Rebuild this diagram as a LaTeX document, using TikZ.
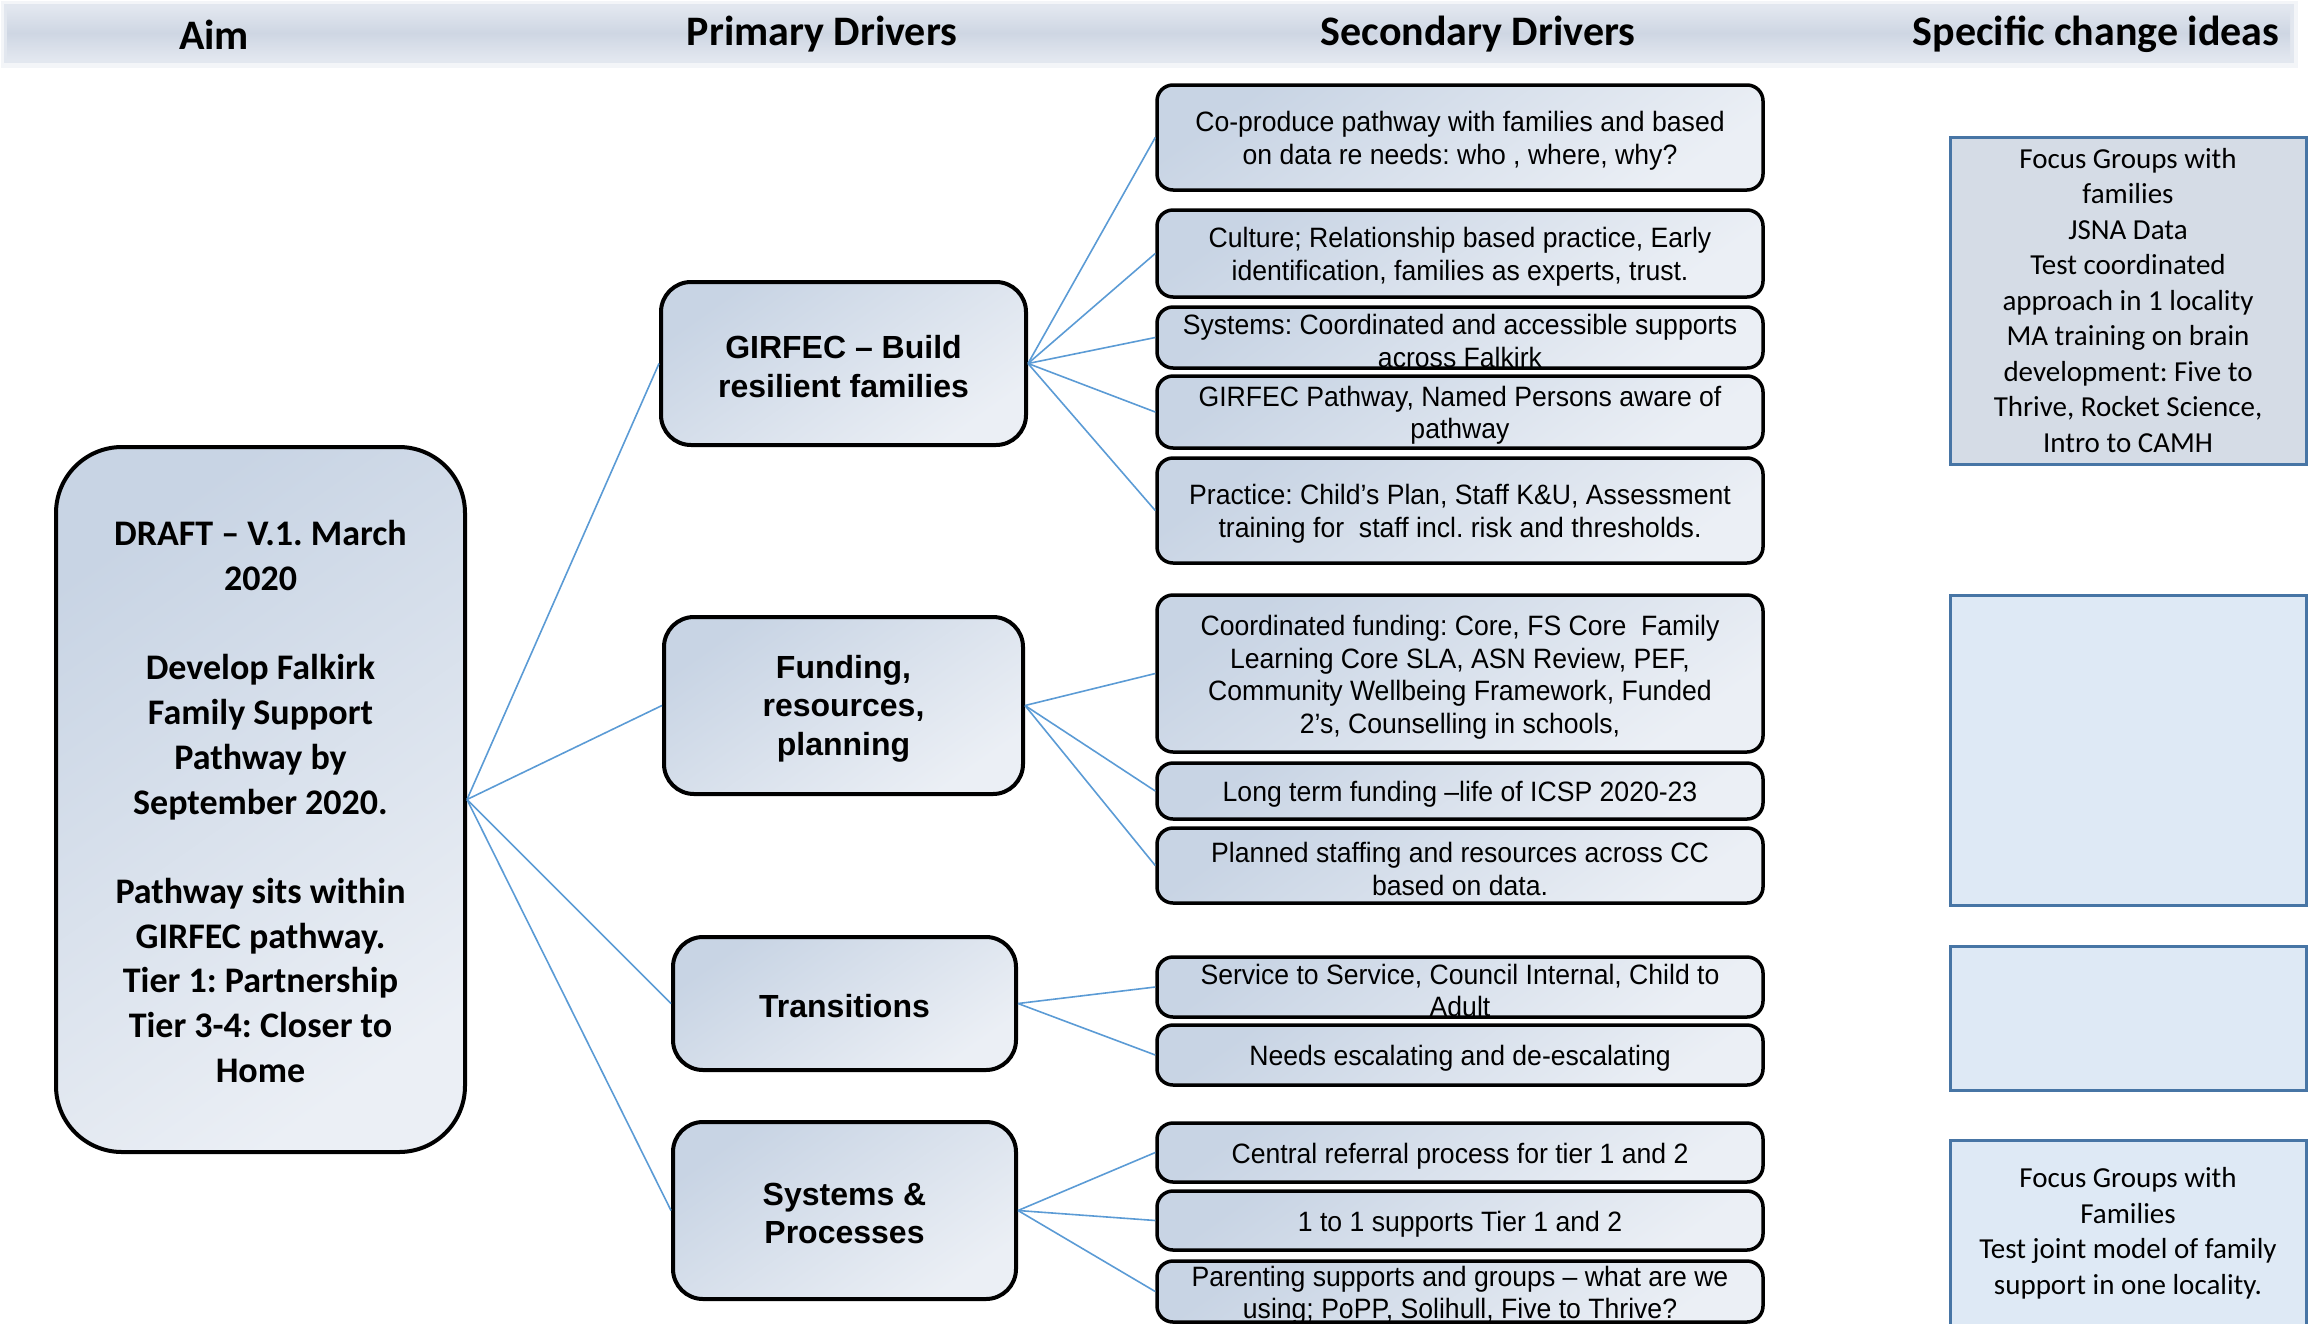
\documentclass[tikz,border=0pt]{standalone}
\usepackage{fontspec}
\setmainfont{Liberation Sans}
\newfontfamily\calibri{Carlito}
\newfontfamily\arialn[FakeStretch=0.95]{Liberation Sans}
\frenchspacing
\definecolor{connc}{RGB}{91,155,213}
\definecolor{gradA}{RGB}{200,212,228}
\definecolor{gradB}{RGB}{235,239,245}
\definecolor{ideaA}{RGB}{213,220,230}
\definecolor{ideaB}{RGB}{222,233,245}
\definecolor{ideaD}{RGB}{71,117,165}
\definecolor{bandc}{RGB}{206,214,227}
\definecolor{bandl}{RGB}{226,231,239}
\tikzset{
  conn/.style={draw=connc, line width=1.6pt},
  gbox/.style={draw=black, line width=4pt, top color=gradA, bottom color=gradB, shading angle=35, inner sep=0pt},
  aimbox/.style={gbox, rounded corners=66pt, minimum width=409pt, minimum height=705pt},
  aimtext/.style={inner sep=0pt, align=center, font=\calibri\bfseries\fontsize{36}{44.7}\selectfont},
  primbox/.style={gbox, rounded corners=30pt},
  primtext/.style={inner sep=0pt, align=center, font=\bfseries\fontsize{32}{38.5}\selectfont},
  secbox/.style={gbox, line width=3.5pt, rounded corners=16pt, minimum width=606pt},
  sectext/.style={inner sep=0pt, align=center, font=\arialn\fontsize{28}{32.5}\selectfont},
  ideabox/.style={draw=ideaD, line width=3pt, minimum width=356pt, inner sep=0pt, align=center, font=\calibri\fontsize{29}{35.5}\selectfont},
  hdr/.style={font=\calibri\bfseries\fontsize{42}{50}\selectfont, inner sep=0pt}
}
\begin{document}
\begin{tikzpicture}[x=1pt,y=-1pt]
\useasboundingbox (0,0) rectangle (2315,1323);
% header band
\fill[bandc, opacity=0.25] (1,1) rectangle (2298,68);
\fill[bandc, opacity=0.45] (4,4) rectangle (2294,63);
\shade[top color=bandl, bottom color=bandl, middle color=bandc] (7,7) rectangle (2290,59);
\node[hdr] (h1) at (214,34.5) {Aim};
\node[hdr] (h2) at (822,34.5) {Primary Drivers};
\node[hdr] (h3) at (1478,34.5) {Secondary Drivers};
\node[hdr] (h4) at (2096,34.5) {Specific change ideas};

% aim
\node[aimbox] (aim) at (260.5,799.5) {};
\node[aimtext] (aimt) at ([yshift=-2pt]aim.center) {DRAFT – V.1. March\\2020\\[44.7pt]Develop Falkirk\\Family Support\\Pathway by\\September 2020.\\[44.7pt]Pathway sits within\\GIRFEC pathway.\\Tier 1: Partnership\\Tier 3-4: Closer to\\Home};

% primary drivers
\node[primbox, minimum width=365pt, minimum height=163pt] (p1) at (843.5,363.5) {};
\node[primbox, minimum width=359pt, minimum height=177pt] (p2) at (843.5,705.5) {};
\node[primbox, minimum width=343pt, minimum height=133pt] (p3) at (844.5,1003.5) {};
\node[primbox, minimum width=343pt, minimum height=177pt] (p4) at (844.5,1210.5) {};
\node[primtext] (p1t) at ([yshift=-3pt]p1.center) {GIRFEC – Build\\resilient families};
\node[primtext] (p2t) at ([yshift=-3pt]p2.center) {Funding,\\resources,\\planning};
\node[primtext] (p3t) at ([yshift=-3pt]p3.center) {Transitions};
\node[primtext] (p4t) at ([yshift=-3pt]p4.center) {Systems \&\\Processes};

% secondary drivers
\node[secbox, minimum height=105pt] (s1) at (1460,137.5) {};
\node[secbox, minimum height=87pt] (s2) at (1460,253.5) {};
\node[secbox, minimum height=61pt] (s3) at (1460,337.5) {};
\node[secbox, minimum height=72pt] (s4) at (1460,412) {};
\node[secbox, minimum height=105pt] (s5) at (1460,510.5) {};
\node[secbox, minimum height=157pt] (s6) at (1460,673.5) {};
\node[secbox, minimum height=56pt] (s7) at (1460,791) {};
\node[secbox, minimum height=75pt] (s8) at (1460,865.5) {};
\node[secbox, minimum height=60pt] (s9) at (1460,987) {};
\node[secbox, minimum height=60pt] (s10) at (1460,1055) {};
\node[secbox, minimum height=59pt] (s11) at (1460,1152.5) {};
\node[secbox, minimum height=59pt] (s12) at (1460,1220.5) {};
\node[secbox, minimum height=61pt] (s13) at (1460,1291.5) {};
\node[sectext] (s1t) at ([yshift=-3.5pt]s1.center) {Co-produce pathway with families and based\\on data re needs: who , where, why?};
\node[sectext] (s2t) at ([yshift=-3.5pt]s2.center) {Culture; Relationship based practice, Early\\identification, families as experts, trust.};
\node[sectext] (s3t) at ([yshift=-3.5pt]s3.center) {Systems: Coordinated and accessible supports\\across Falkirk};
\node[sectext] (s4t) at ([yshift=-3.5pt]s4.center) {GIRFEC Pathway, Named Persons aware of\\pathway};
\node[sectext] (s5t) at ([yshift=-3.5pt]s5.center) {Practice: Child’s Plan, Staff K\&U, Assessment\\training for\ \ staff incl. risk and thresholds.};
\node[sectext] (s6t) at ([yshift=-3.5pt]s6.center) {Coordinated funding: Core, FS Core\ \ Family\\Learning Core SLA, ASN Review, PEF,\\Community Wellbeing Framework, Funded\\2’s, Counselling in schools,};
\node[sectext] (s7t) at ([yshift=-3.5pt]s7.center) {Long term funding –life of ICSP 2020-23};
\node[sectext] (s8t) at ([yshift=-3.5pt]s8.center) {Planned staffing and resources across CC\\based on data.};
\node[sectext] (s9t) at ([yshift=-3.5pt]s9.center) {Service to Service, Council Internal, Child to\\Adult};
\node[sectext] (s10t) at ([yshift=-3.5pt]s10.center) {Needs escalating and de-escalating};
\node[sectext] (s11t) at ([yshift=-3.5pt]s11.center) {Central referral process for tier 1 and 2};
\node[sectext] (s12t) at ([yshift=-3.5pt]s12.center) {1 to 1 supports Tier 1 and 2};
\node[sectext] (s13t) at ([yshift=-3.5pt]s13.center) {Parenting supports and groups – what are we\\using; PoPP, Solihull, Five to Thrive?};

% change ideas
\node[ideabox, fill=ideaA, minimum height=327pt] (c1) at (2128,300.5) {Focus Groups with\\families\\JSNA Data\\Test coordinated\\approach in 1 locality\\MA training on brain\\development: Five to\\Thrive, Rocket Science,\\Intro to CAMH};
\node[ideabox, fill=ideaB, minimum height=310pt] (c2) at (2128,750) {};
\node[ideabox, fill=ideaB, minimum height=144pt] (c3) at (2128,1018) {};
\node[ideabox, fill=ideaB, minimum height=186pt] (c4) at (2128,1233) {Focus Groups with\\Families\\Test joint model of family\\support in one locality.};

% connectors
\foreach \p in {p1,p2,p3,p4} \draw[conn] (aim.east) -- (\p.west);
\foreach \s in {s1,s2,s3,s4,s5} \draw[conn] (p1.east) -- (\s.west);
\foreach \s in {s6,s7,s8} \draw[conn] (p2.east) -- (\s.west);
\foreach \s in {s9,s10} \draw[conn] (p3.east) -- (\s.west);
\foreach \s in {s11,s12,s13} \draw[conn] (p4.east) -- (\s.west);
\end{tikzpicture}
\end{document}
